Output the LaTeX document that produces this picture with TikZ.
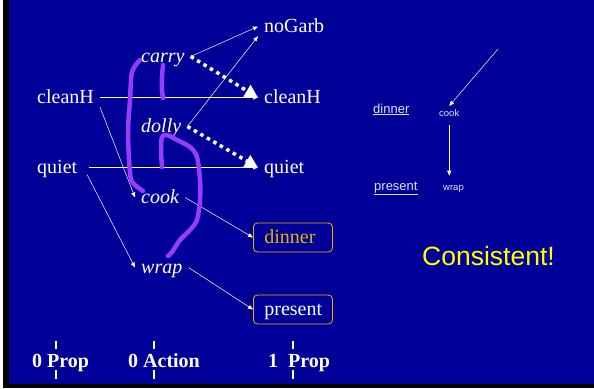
\documentclass[tikz,border=0pt]{standalone}
\usepackage{fontspec}
\setmainfont{Liberation Serif}
\setsansfont{Liberation Sans}
\usetikzlibrary{arrows.meta}
\definecolor{slide}{RGB}{0,0,153}
\definecolor{pen}{RGB}{150,60,255}
\definecolor{gold}{RGB}{230,180,0}
\definecolor{pale}{RGB}{225,225,255}
\definecolor{lemon}{RGB}{255,255,0}
\tikzset{
  lit/.style={font=\fontsize{20}{24}\selectfont, text=white, text height=15pt,
    text depth=4pt, inner xsep=6pt, inner ysep=0pt, anchor=base west},
  act/.style={lit, font=\fontsize{20}{24}\selectfont\itshape},
  goal/.style={lit, text=gold, draw=gold, line width=0.8pt, rounded corners=4pt,
    text width=57pt, inner xsep=11pt, inner ysep=5pt, align=left},
  link/.style={white, line width=0.5pt, -{Triangle[length=5pt,width=4pt]}},
  mutex/.style={white, line width=3.5pt, dash pattern=on 3.5pt off 4pt,
    -{Triangle[length=13pt,width=13pt]}},
  pencil/.style={pen, line width=4.5pt, line cap=round, line join=round},
  level/.style={font=\fontsize{20}{24}\selectfont\bfseries, text=white,
    inner sep=0pt, anchor=base west},
  tiny/.style={font=\sffamily\fontsize{9.5}{11}\selectfont, text=pale,
    inner sep=3pt, anchor=base west},
}
\begin{document}
\begin{tikzpicture}[x=1pt,y=-1pt]
  \useasboundingbox (0,0) rectangle (594,388);
  % slide background and frame
  \fill[slide] (0,0) rectangle (594,388);
  \fill[black] (3,0) rectangle (9,388);
  \fill[black] (3,384) rectangle (594,388);
  \fill[white] (0,0) rectangle (3,388);
  % level 0 propositions
  \node[lit] (cleanH) at (31,103) {cleanH};
  \node[lit] (quiet) at (31,173) {quiet};
  % level 0 actions
  \node[act] (carry) at (135,62) {carry};
  \node[act] (dolly) at (135,132) {dolly};
  \node[act] (cook) at (135,203) {cook};
  \node[act] (wrap) at (135,273) {wrap};
  % level 1 propositions
  \node[lit] (noGarb) at (258,32) {noGarb};
  \node[lit] (cleanH2) at (258,103) {cleanH};
  \node[lit] (quiet2) at (258,173) {quiet};
  \node[goal] (dinner) at (253,243) {dinner};
  \node[goal, text=white] (present) at (253,315) {present};
  % effects and preconditions
  \draw[link] (carry.east) -- (noGarb.west);
  \draw[link] (dolly.east) -- (noGarb.south west);
  \draw[link] (cleanH.east) -- (cleanH2.west);
  \draw[link, shorten <=6pt] (quiet.east) -- (quiet2.west);
  \draw[link] (cleanH.south east) -- (cook.west);
  \draw[link, shorten <=8pt] (quiet.east) -- (wrap.west);
  \draw[link] (cook.east) -- (dinner.west);
  \draw[link] (wrap.east) -- (present.west);
  % deletes
  \draw[mutex] (carry.east) -- (cleanH2.west);
  \draw[mutex] (dolly.east) -- (quiet2.west);
  % hand drawn mutex marks
  \draw[pencil] plot[smooth] coordinates {(140,60) (132,72) (130,100) (128,133)
    (130,173) (133,183) (143,191)};
  \draw[pencil] plot[smooth] coordinates {(163,65) (162,77) (162,90) (163,98)};
  \draw[pencil] plot[smooth] coordinates {(162,167) (161,150) (162,137) (167,135)
    (177,140) (190,147) (197,157) (200,180) (200,200) (197,220) (190,230)
    (180,240) (172,252) (168,256)};
  % level labels
  \foreach \x in {56,154,293}
    \draw[white, line width=1.5pt] (\x,341) -- (\x,349) (\x,370) -- (\x,379);
  \node[level] (prop0) at (32,367) {0 Prop};
  \node[level] (action0) at (128,367) {0 Action};
  \node[level] (prop1) at (268,367) {1\ \ Prop};
  % plan so far
  \node[tiny, font=\sffamily\fontsize{13}{15}\selectfont] (dinnerR) at (370,113)
    {\underline{dinner}};
  \node[tiny, font=\sffamily\fontsize{13}{15}\selectfont] (presentR) at (371,190)
    {\underline{present}};
  \node[tiny] (cookR) at (436,116) {cook};
  \node[tiny] (wrapR) at (440,190) {wrap};
  \coordinate (from) at (498,49);
  \draw[link] (from) -- (cookR.north);
  \draw[link, shorten <=6pt, shorten >=6pt] (cookR.south) -- (cookR.south |- wrapR.north);
  \node[font=\sffamily\fontsize{26.5}{30}\selectfont, text=lemon, inner sep=0pt,
    anchor=base west] (verdict) at (422,265) {Consistent!};
\end{tikzpicture}
\end{document}
